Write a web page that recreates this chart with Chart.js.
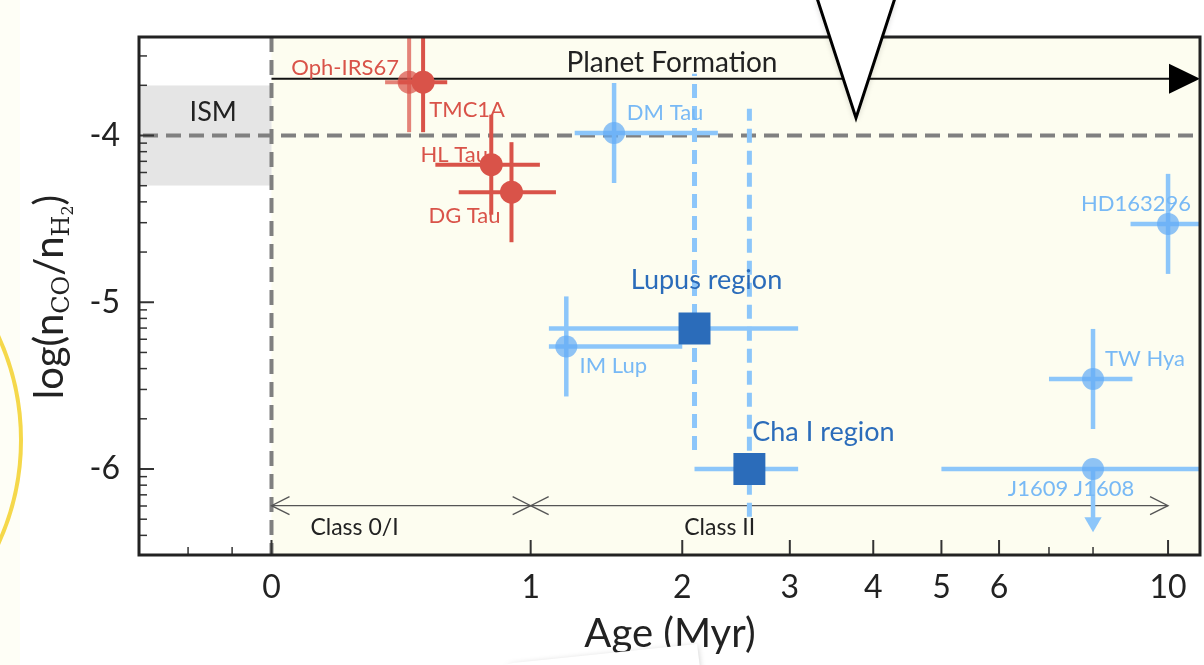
<!DOCTYPE html>
<html>
<head>
<meta charset="utf-8">
<script src="https://cdn.jsdelivr.net/npm/chart.js@4.4.1/dist/chart.umd.min.js"></script>
<style>
  html, body { margin: 0; padding: 0; background: #fff; }
  canvas { display: block; }
</style>
</head>
<body>
<canvas id="coChart" width="1204" height="665"></canvas>
<script>
// Class 0/I sources (red)
const protoNames = ['Oph-IRS67', 'TMC1A', 'HL Tau', 'DG Tau'];
const protoAge = [0.445, 0.50, 0.80, 0.90];
const protoAgeLo = [0.355, 0.405, 0.55, 0.65];
const protoAgeHi = [0.54, 0.60, 1.05, 1.14];
const protoLogCO = [-3.68, -3.68, -4.175, -4.34];
const protoErr = [0.3, 0.3, 0.3, 0.3];

// Class II disks (light blue)
const diskNames = ['DM Tau', 'IM Lup', 'HD163296', 'TW Hya', 'J1609 J1608'];
const diskAge = [1.5, 1.2, 10, 8, 8];
const diskAgeLo = [1.25, 1.1, 8.95, 7, 5];
const diskAgeHi = [2.3, 2.0, 11.5, 9, 12.5];
const diskLogCO = [-3.985, -5.265, -4.53, -5.46, -6.0];
const diskErr = [0.3, 0.3, 0.3, 0.3, 0];
const upperLimitEnd = -6.32; // J1609 J1608 arrow

// Survey regions (dark blue squares)
const regionNames = ['Lupus region', 'Cha I region'];
const regionAge = [2.1, 2.59];
const regionAgeLo = [1.1, 2.1];
const regionAgeHi = [3.09, 3.09];
const regionLogCO = [-5.158, -6.0];
const regionLogLo = [-5.886, -6.286];
const regionLogHi = [-3.63, -3.84];

// ISM band and reference values
const ismLo = -4.3;
const ismHi = -3.7;
const ismValue = -4;
const planetArrowY = -3.66;
const classArrowY = -6.22;
const classNames = ['Class 0/I', 'Class II'];
const classRanges = [[0, 1], [1, 10]];

// axes
const xTickAges = [0, 1, 2, 3, 4, 5, 6, 10];
const xTickLabels = ['0', '1', '2', '3', '4', '5', '6', '10'];
const xMinorAges = [-0.2, -0.1, 7, 8];
const yTicks = [-6, -5, -4];
const yTickLabels = ['-6', '-5', '-4'];

// age axis is log10(1 + age)
const toU = age => Math.log10(1 + age);

const RED = 'rgb(217, 83, 73)';
const RED_FADED = 'rgba(217, 83, 73, 0.72)';
const LIGHT = 'rgb(140, 198, 250)';
const LIGHT_DOT = 'rgba(100, 172, 245, 0.72)';
const LIGHT_TEXT = 'rgb(120, 185, 245)';
const DARK = 'rgb(43, 108, 186)';
const FONT = 'Lato, "Open Sans", sans-serif';

function segment(x0, y0, x1, y1, color, width, dash) {
    return {
        type: 'line',
        data: [{ x: x0, y: y0 }, { x: x1, y: y1 }],
        borderColor: color,
        borderWidth: width,
        borderDash: dash || [],
        borderCapStyle: 'butt',
        pointRadius: 0,
        fill: false,
        order: 5
    };
}

const datasets = [];

// error bars
protoNames.forEach((n, i) => {
    const c = i === 0 ? RED_FADED : RED;
    datasets.push(segment(toU(protoAgeLo[i]), protoLogCO[i], toU(protoAgeHi[i]), protoLogCO[i], c, 4));
    datasets.push(segment(toU(protoAge[i]), protoLogCO[i] - protoErr[i], toU(protoAge[i]), protoLogCO[i] + protoErr[i], c, 4));
});
diskNames.forEach((n, i) => {
    datasets.push(segment(toU(diskAgeLo[i]), diskLogCO[i], toU(diskAgeHi[i]), diskLogCO[i], LIGHT, 4.5));
    if (diskErr[i] > 0) {
        datasets.push(segment(toU(diskAge[i]), diskLogCO[i] - diskErr[i], toU(diskAge[i]), diskLogCO[i] + diskErr[i], LIGHT, 4.5));
    }
});
regionNames.forEach((n, i) => {
    datasets.push(segment(toU(regionAgeLo[i]), regionLogCO[i], toU(regionAgeHi[i]), regionLogCO[i], LIGHT, 4.5));
    datasets.push(segment(toU(regionAge[i]), regionLogLo[i], toU(regionAge[i]), regionLogHi[i], LIGHT, 5, [14, 8]));
});

// upper limit arrow for J1609 J1608
const limIdx = diskNames.indexOf('J1609 J1608');
datasets.push({
    type: 'line',
    data: [{ x: toU(diskAge[limIdx]), y: diskLogCO[limIdx] }, { x: toU(diskAge[limIdx]), y: upperLimitEnd }],
    borderColor: LIGHT,
    borderWidth: 4.5,
    pointRadius: [0, 10],
    pointStyle: 'triangle',
    rotation: 180,
    pointBackgroundColor: LIGHT,
    pointBorderWidth: 0,
    order: 5
});

// markers
datasets.push({
    type: 'scatter',
    data: protoNames.slice(0, 1).map((n, i) => ({ x: toU(protoAge[i]), y: protoLogCO[i] })),
    backgroundColor: RED_FADED, borderWidth: 0, pointRadius: 11.5, order: 3
});
datasets.push({
    type: 'scatter',
    data: protoNames.slice(1).map((n, i) => ({ x: toU(protoAge[i + 1]), y: protoLogCO[i + 1] })),
    backgroundColor: RED, borderWidth: 0, pointRadius: 11.5, order: 2
});
datasets.push({
    type: 'scatter',
    data: diskNames.map((n, i) => ({ x: toU(diskAge[i]), y: diskLogCO[i] })),
    backgroundColor: LIGHT_DOT, borderWidth: 0, pointRadius: 11, order: 2
});
datasets.push({
    type: 'scatter',
    data: regionNames.map((n, i) => ({ x: toU(regionAge[i]), y: regionLogCO[i] })),
    backgroundColor: DARK, borderWidth: 0, pointStyle: 'rect', pointRadius: 22.6, order: 1
});

// label centre offsets in pixels from each marker
const protoLabelPos = [[-64, -14], [44, 28], [-37, -10], [-47, 24]];
const diskLabelPos = [[51, -20], [47, 19], [-32, -20], [52, -20], [-22, 20]];
const regionLabelPos = [[12, -48], [74, -37]];

function arrowHead(ctx, x, y, dir, len, half) {
    ctx.beginPath();
    ctx.moveTo(x + dir * len, y - half);
    ctx.lineTo(x, y);
    ctx.lineTo(x + dir * len, y + half);
    ctx.stroke();
}

// drop the label overhang padding so the plot box sits where it should
function noPad(axis) {
    axis.paddingTop = 0;
    axis.paddingBottom = 0;
    axis.paddingLeft = 0;
    axis.paddingRight = 0;
}

const decor = {
    id: 'decor',
    beforeDatasetsDraw(chart) {
        const { ctx, chartArea: a, scales: { x, y } } = chart;
        const x0 = x.getPixelForValue(toU(0));
        ctx.save();
        ctx.beginPath();
        ctx.rect(a.left, a.top, a.right - a.left, a.bottom - a.top);
        ctx.clip();
        // background regions
        ctx.fillStyle = 'rgb(253, 253, 240)';
        ctx.fillRect(x0, a.top, a.right - x0, a.bottom - a.top);
        ctx.fillStyle = 'rgb(229, 229, 229)';
        const yTop = y.getPixelForValue(ismHi), yBot = y.getPixelForValue(ismLo);
        ctx.fillRect(a.left, yTop, x0 - a.left, yBot - yTop);

        // grey dashed references
        ctx.strokeStyle = 'rgb(128, 128, 128)';
        ctx.lineWidth = 4;
        ctx.setLineDash([15, 8]);
        const yi = y.getPixelForValue(ismValue);
        ctx.beginPath();
        ctx.moveTo(a.left + 4, yi); ctx.lineTo(a.right, yi);
        ctx.moveTo(x0, a.top); ctx.lineTo(x0, a.bottom);
        ctx.stroke();
        ctx.setLineDash([]);

        // planet formation arrow
        const yp = y.getPixelForValue(planetArrowY);
        ctx.strokeStyle = '#111';
        ctx.lineWidth = 2;
        ctx.beginPath();
        ctx.moveTo(x0, yp); ctx.lineTo(a.right - 20, yp);
        ctx.stroke();
        ctx.fillStyle = '#000';
        ctx.beginPath();
        ctx.moveTo(a.right, yp);
        ctx.lineTo(a.right - 31, yp - 15);
        ctx.lineTo(a.right - 31, yp + 15);
        ctx.closePath();
        ctx.fill();

        // class arrows
        const yc = y.getPixelForValue(classArrowY);
        ctx.strokeStyle = '#555';
        ctx.lineWidth = 1.3;
        classRanges.forEach(r => {
            const p0 = x.getPixelForValue(toU(r[0])), p1 = x.getPixelForValue(toU(r[1]));
            ctx.beginPath();
            ctx.moveTo(p0, yc); ctx.lineTo(p1, yc);
            ctx.stroke();
            arrowHead(ctx, p0, yc, 1, 18, 9);
            arrowHead(ctx, p1, yc, -1, 18, 9);
        });
        ctx.restore();
    },
    afterDatasetsDraw(chart) {
        const { ctx, chartArea: a, scales: { x, y } } = chart;
        const x0 = x.getPixelForValue(toU(0));
        ctx.save();
        ctx.textBaseline = 'middle';
        ctx.textAlign = 'center';

        ctx.fillStyle = '#222';
        ctx.font = '27px ' + FONT;
        ctx.fillText('ISM', (a.left + x0) / 2 + 8, y.getPixelForValue((ismHi + ismValue) / 2) + 2);
        ctx.font = '28px ' + FONT;
        ctx.fillText('Planet Formation', 672, y.getPixelForValue(planetArrowY) - 16);

        ctx.font = '23px ' + FONT;
        const yc = y.getPixelForValue(classArrowY);
        ctx.fillText(classNames[0], x.getPixelForValue(toU(classRanges[0][0])) + 83, yc + 22);
        ctx.fillText(classNames[1], x.getPixelForValue(toU(classRanges[1][0])) + 189, yc + 22);

        ctx.font = '22px ' + FONT;
        protoNames.forEach((n, i) => {
            const [dx, dy] = protoLabelPos[i];
            ctx.fillStyle = RED;
            ctx.fillText(n, x.getPixelForValue(toU(protoAge[i])) + dx, y.getPixelForValue(protoLogCO[i]) + dy);
        });
        diskNames.forEach((n, i) => {
            const [dx, dy] = diskLabelPos[i];
            ctx.fillStyle = LIGHT_TEXT;
            ctx.fillText(n, x.getPixelForValue(toU(diskAge[i])) + dx, y.getPixelForValue(diskLogCO[i]) + dy);
        });
        ctx.font = '27px ' + FONT;
        regionNames.forEach((n, i) => {
            const [dx, dy] = regionLabelPos[i];
            ctx.fillStyle = DARK;
            ctx.fillText(n, x.getPixelForValue(toU(regionAge[i])) + dx, y.getPixelForValue(regionLogCO[i]) + dy);
        });
        ctx.restore();
    },
    afterDraw(chart) {
        const { ctx, chartArea: a, scales: { x, y } } = chart;
        ctx.save();
        // inward ticks
        ctx.strokeStyle = '#333';
        const tick = (px, py, dx, dy, w) => {
            ctx.lineWidth = w;
            ctx.beginPath(); ctx.moveTo(px, py); ctx.lineTo(px + dx, py + dy); ctx.stroke();
        };
        xTickAges.forEach(t => tick(x.getPixelForValue(toU(t)), a.bottom, 0, -15, 2));
        xMinorAges.forEach(t => tick(x.getPixelForValue(toU(t)), a.bottom, 0, -8, 1.5));
        yTicks.forEach(v => tick(a.left, y.getPixelForValue(v), 15, 0, 2));
        for (let d = -7; d <= -4; d++) {
            for (let k = 2; k <= 9; k++) {
                const v = d + Math.log10(k);
                if (v > y.min && v < y.max) tick(a.left, y.getPixelForValue(v), 8, 0, 1.5);
            }
        }
        // frame
        ctx.strokeStyle = '#222';
        ctx.lineWidth = 3;
        ctx.strokeRect(a.left, a.top, a.right - a.left, a.bottom - a.top);

        // axis titles
        ctx.fillStyle = '#222';
        ctx.textBaseline = 'alphabetic';
        ctx.textAlign = 'center';
        ctx.font = '40px ' + FONT;
        ctx.fillText('Age (Myr)', 670, 647);

        // y title with subscripts
        const parts = [
            { t: 'log(n', f: '40px ' + FONT, dy: 0 },
            { t: 'CO', f: '24px "DejaVu Serif", serif', dy: 6 },
            { t: '/n', f: '40px ' + FONT, dy: 0 },
            { t: 'H', f: '24px "DejaVu Serif", serif', dy: 6 },
            { t: '2', f: '16px "DejaVu Serif", serif', dy: 10 },
            { t: ')', f: '40px ' + FONT, dy: 0 }
        ];
        let total = 0;
        parts.forEach(p => { ctx.font = p.f; p.w = ctx.measureText(p.t).width; total += p.w; });
        ctx.translate(63, 297);
        ctx.rotate(-Math.PI / 2);
        ctx.textAlign = 'left';
        let cx = -total / 2;
        parts.forEach(p => { ctx.font = p.f; ctx.fillText(p.t, cx, p.dy); cx += p.w; });
        ctx.setTransform(1, 0, 0, 1, 0, 0);

        // slide overlays around the figure
        ctx.fillStyle = 'rgb(254, 254, 246)';
        ctx.fillRect(0, 0, 20, 665);
        ctx.strokeStyle = 'rgb(245, 216, 74)';
        ctx.lineWidth = 4;
        ctx.beginPath();
        ctx.arc(-228, 440, 249, -0.45, 0.45);
        ctx.stroke();

        ctx.shadowColor = 'rgba(0,0,0,0.22)';
        ctx.shadowBlur = 6;
        ctx.shadowOffsetY = 2;
        ctx.fillStyle = '#fff';
        ctx.beginPath();
        ctx.moveTo(505, 665); ctx.lineTo(513, 663); ctx.lineTo(697, 644); ctx.lineTo(700, 668); ctx.closePath();
        ctx.fill();
        ctx.beginPath();
        ctx.moveTo(817, -2); ctx.lineTo(856, 118); ctx.lineTo(895, -2); ctx.closePath();
        ctx.fill();
        ctx.shadowColor = 'transparent';
        ctx.strokeStyle = '#000';
        ctx.lineWidth = 3;
        ctx.beginPath();
        ctx.moveTo(817, -2); ctx.lineTo(856, 118); ctx.lineTo(895, -2);
        ctx.stroke();
        ctx.restore();
    }
};

const ctx = document.getElementById('coChart').getContext('2d');
new Chart(ctx, {
    type: 'scatter',
    data: { datasets },
    options: {
        responsive: false,
        animation: false,
        layout: { autoPadding: false, padding: { top: 37, right: 4, left: 0, bottom: 0 } },
        plugins: { legend: { display: false }, tooltip: { enabled: false } },
        scales: {
            x: {
                type: 'linear',
                min: -0.1539,
                max: 1.0785,
                grid: { display: false, drawTicks: false },
                border: { display: false },
                afterBuildTicks: axis => { axis.ticks = xTickAges.map(t => ({ value: toU(t) })); },
                afterFit: axis => { axis.height = 110; noPad(axis); },
                ticks: {
                    callback: (v, i) => xTickLabels[i],
                    autoSkip: false, maxRotation: 0,
                    padding: 13, color: '#222',
                    font: { family: FONT, size: 32 }
                }
            },
            y: {
                type: 'linear',
                min: -6.5157,
                max: -3.4093,
                grid: { display: false, drawTicks: false },
                border: { display: false },
                afterBuildTicks: axis => { axis.ticks = yTicks.map(v => ({ value: v })); },
                afterFit: axis => { axis.width = 139; noPad(axis); },
                ticks: {
                    callback: (v, i) => yTickLabels[i],
                    autoSkip: false,
                    padding: 19, color: '#222',
                    font: { family: FONT, size: 32 }
                }
            }
        }
    },
    plugins: [decor]
});
</script>
</body>
</html>
